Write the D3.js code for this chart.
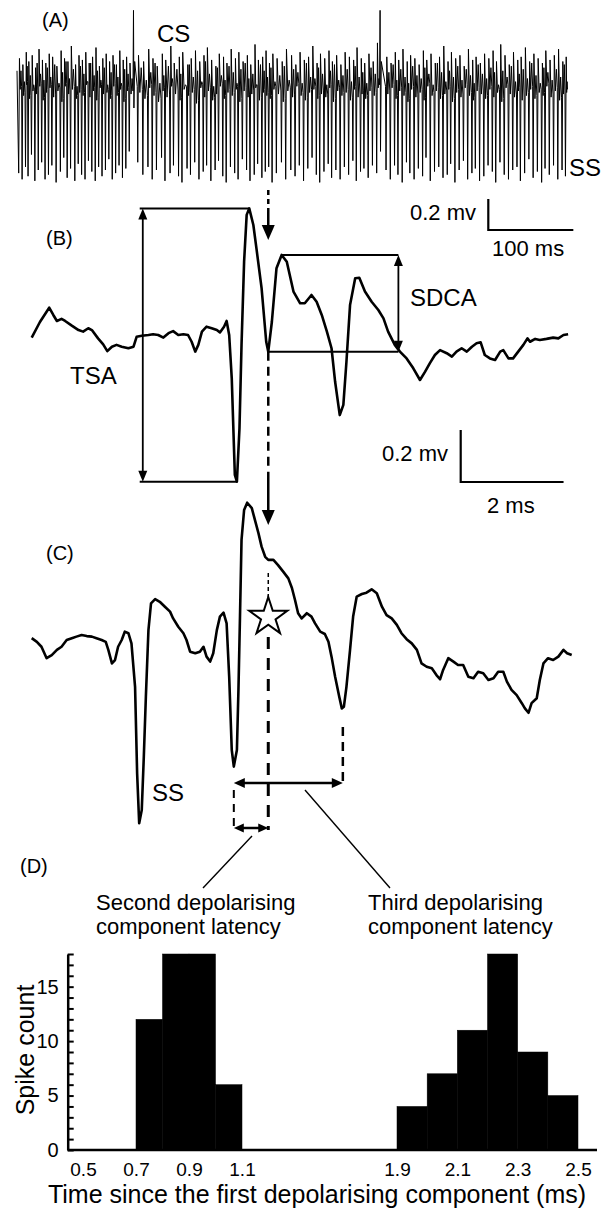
<!DOCTYPE html>
<html>
<head>
<meta charset="utf-8">
<script src="https://cdn.jsdelivr.net/npm/d3@7"></script>
<style>
  body { margin: 0; background: #fff; }
  text { font-family: "Liberation Sans", Arial, sans-serif; fill: #000; }
</style>
</head>
<body>
<script>
// ------------------------------- Data --------------------------------------
// (A) raw recording: simple spike times (ms), their trough (mV x 0.01),
// and the noise between one spike and the next (mV x 0.01).
var aSpikeT = [2,6,10,13,17,21,25,29,33,37,41,46,51,55,59,63,68,72,76,80,84,88,92,96,100,104,108,112,116,120,124,128,132,
  142,148,154,159,164,170,174,180,184,190,194,200,204,209,214,219,223,228,233,237,242,246,251,256,260,265,270,274,279,283,288,292,296,300,305,311,316,322,327,332,337,342,347,352,356,361,366,370,375,380,385,390,395,399,404,408,413,418,423,
  434,439,444,448,453,458,462,467,472,477,481,486,491,496,501,506,510,515,520,525,530,535,539,544,549,554,559,563,568,573,578,583,588,592,597,602,607,612,617,621,626,631,636,641,645];
var aSpikeDepth = [-62,-66,-58,-64,-50,-67,-60,-55,-66,-63,-57,-68,-61,-52,-65,-59,-67,-56,-63,-66,-54,-61,-67,-58,-64,-60,-53,-66,-62,-57,-65,-59,-48,
  -55,-63,-58,-66,-60,-52,-67,-62,-57,-64,-68,-59,-63,-55,-66,-61,-57,-67,-60,-54,-64,-68,-58,-62,-66,-53,-60,-67,-63,-56,-65,-61,-58,-68,-62,-55,-66,-60,-64,-57,-67,-59,-52,-63,-68,-61,-56,-65,-60,-66,-58,-63,-54,-67,-61,-59,-65,-57,-62,
  -60,-66,-57,-63,-68,-55,-62,-66,-59,-64,-52,-67,-61,-58,-65,-63,-56,-68,-60,-54,-66,-62,-59,-67,-64,-57,-61,-68,-55,-63,-66,-60,-58,-67,-62,-53,-65,-61,-68,-59,-63,-57,-66,-60,-64];
var aNoiseUp = [12,8,16,10,14,6,18,11,9,15,13,7,17,12,10,20,8,14,11,16,9,13,19,7,12,15,10,14,8,17,11,13,9,
  14,10,18,12,7,15,11,20,9,13,16,8,12,17,10,14,19,11,7,15,13,9,18,12,16,10,14,8,21,11,13,17,9,15,12,10,18,14,8,16,11,13,20,9,15,12,17,10,14,8,16,13,11,19,12,9,15,10,22,
  13,9,16,11,18,10,14,12,8,17,11,15,9,13,20,10,16,12,14,7,18,11,13,9,15,12,17,10,21,14,8,16,11,13,19,10,15,12,9,17,11,14,18,10,13];
var aNoiseLow = [-8,-12,-5,-14,-9,-11,-6,-15,-10,-7,-13,-9,-16,-6,-11,-8,-14,-10,-12,-5,-13,-9,-15,-7,-11,-10,-14,-6,-12,-8,-16,-9,-11,
  -10,-14,-7,-12,-16,-9,-13,-6,-11,-15,-8,-12,-10,-17,-7,-13,-9,-15,-11,-6,-14,-10,-12,-8,-16,-9,-13,-11,-7,-15,-10,-12,-14,-8,-11,-16,-9,-13,-6,-12,-15,-10,-8,-14,-11,-13,-7,-16,-9,-12,-10,-15,-8,-13,-11,-14,-9,-12,-7,
  -11,-7,-14,-9,-12,-16,-8,-13,-10,-15,-6,-12,-9,-14,-11,-8,-16,-10,-13,-7,-12,-15,-9,-11,-14,-8,-13,-10,-16,-7,-11,-13,-9,-15,-12,-8,-14,-10,-12,-6,-13,-9,-15,-11,-10];
var aNoiseMid = [4,-3,7,1,-5,9,2,-2,6,0,8,-4,3,10,-1,5,-6,7,2,-3,9,1,4,-2,6,-5,3,8,0,-4,5,2,-1,
  6,-2,3,9,-4,1,7,-1,5,2,-5,8,0,4,-3,10,2,-6,6,1,-2,7,3,-4,5,9,-1,2,-5,8,4,0,6,-3,1,7,-2,5,3,-4,9,0,-1,6,2,-5,4,8,-2,1,5,-3,7,0,3,-4,6,2,-1,
  3,8,-2,5,0,-4,7,1,-1,6,2,-5,9,3,-3,4,0,7,-2,5,1,-4,8,2,-1,6,3,-5,4,0,7,-3,2,5,-1,9,1,-4,6,3,-2,5,0,8,-3];
// complex spikes (ms), peak and trough (mV)
var aCsT = [137, 427];
var aCsPeak = [0.43, 0.43];
var aCsTrough = [-0.20, -0.48];

// (B) averaged complex spike waveform: time (ms) / voltage (mV)
var bTime = [0,0.16,0.34,0.42,0.49,0.58,0.65,0.78,0.91,1.00,1.10,1.17,1.29,1.39,1.47,1.56,1.65,1.75,1.88,1.98,
  2.04,2.14,2.27,2.36,2.46,2.56,2.66,2.75,2.85,2.95,3.04,3.11,3.18,3.24,3.31,3.40,3.50,3.60,3.66,3.74,
  3.79,3.84,3.89,3.95,3.99,4.04,4.08,4.13,4.18,4.23,4.31,4.37,4.47,4.56,4.60,4.67,4.76,4.86,4.96,5.09,
  5.22,5.31,5.44,5.54,5.64,5.74,5.83,5.90,5.99,6.06,6.12,6.19,6.29,6.37,6.48,6.61,6.74,6.84,6.93,7.06,
  7.16,7.29,7.42,7.55,7.65,7.74,7.84,7.94,8.07,8.17,8.26,8.36,8.46,8.56,8.65,8.73,8.81,8.91,9.01,9.11,
  9.17,9.27,9.36,9.46,9.56,9.64,9.69,9.79,9.88,10.01,10.14,10.24,10.34,10.43];
var bVolt = [-0.01,0.05,0.105,0.077,0.054,0.062,0.054,0.036,0.019,0.013,0.026,0.019,-0.013,-0.036,-0.062,-0.045,-0.038,-0.045,-0.051,-0.045,
  -0.007,-0.003,0,0.003,0,-0.01,0.007,0.015,0,0.003,0,-0.026,-0.064,-0.038,0.013,0.032,0.026,0.019,0.01,0.032,
  0.054,0,-0.167,-0.538,-0.564,-0.359,-0.038,0.282,0.462,0.487,0.423,0.333,0.18,-0.026,-0.064,0.051,0.257,0.308,0.282,0.167,
  0.122,0.122,0.154,0.128,0.077,0.013,-0.051,-0.18,-0.308,-0.269,-0.103,0.115,0.218,0.22,0.167,0.128,0.096,0.064,0.013,-0.038,
  -0.064,-0.09,-0.128,-0.173,-0.141,-0.109,-0.077,-0.058,-0.07,-0.083,-0.064,-0.051,-0.064,-0.045,-0.032,-0.028,-0.077,-0.09,-0.096,-0.064,
  -0.058,-0.09,-0.09,-0.064,-0.038,-0.013,-0.026,-0.015,-0.019,-0.015,-0.01,-0.013,0,0.003];

// (C) complex spike following a simple spike
var cTime = [0,0.10,0.19,0.29,0.39,0.49,0.58,0.68,0.78,0.87,0.97,1.07,1.17,1.26,1.36,1.44,1.49,1.56,1.62,1.68,
  1.75,1.81,1.88,1.94,2.01,2.05,2.09,2.14,2.18,2.22,2.27,2.32,2.40,2.49,2.59,2.69,2.75,2.85,2.95,3.01,
  3.08,3.18,3.27,3.34,3.40,3.47,3.53,3.60,3.66,3.73,3.79,3.84,3.89,3.93,3.99,4.02,4.05,4.08,4.13,4.19,
  4.28,4.34,4.41,4.47,4.54,4.60,4.70,4.79,4.89,4.99,5.06,5.12,5.18,5.25,5.35,5.44,5.51,5.61,5.70,5.77,
  5.83,5.90,5.98,6.03,6.07,6.12,6.19,6.25,6.32,6.42,6.51,6.61,6.71,6.81,6.90,7.00,7.10,7.19,7.29,7.39,
  7.49,7.58,7.68,7.78,7.87,7.94,8.00,8.10,8.20,8.29,8.39,8.49,8.59,8.68,8.78,8.88,8.98,9.07,9.17,9.24,
  9.33,9.43,9.53,9.59,9.66,9.72,9.82,9.88,9.95,10.04,10.14,10.24,10.34,10.41,10.50];
var cVolt = [0.007,-0.007,-0.026,-0.07,-0.058,-0.038,-0.026,0,0.007,0.013,0.019,0.015,0.013,0.007,0,-0.007,-0.038,-0.09,-0.077,-0.026,
  0,0.032,0.026,-0.013,-0.18,-0.513,-0.705,-0.654,-0.449,-0.218,0.038,0.141,0.157,0.147,0.128,0.109,0.083,0.051,0.026,0,
  -0.045,-0.051,-0.045,-0.026,-0.064,-0.083,-0.051,0.038,0.09,0.105,0.064,-0.141,-0.423,-0.487,-0.423,-0.192,0.09,0.385,0.5,0.528,
  0.507,0.462,0.41,0.359,0.32,0.308,0.308,0.288,0.263,0.237,0.2,0.154,0.103,0.083,0.103,0.09,0.064,0.032,0.023,-0.007,
  -0.064,-0.141,-0.218,-0.263,-0.257,-0.18,-0.038,0.09,0.167,0.177,0.182,0.195,0.18,0.128,0.096,0.083,0.058,0.026,0.003,-0.013,
  -0.038,-0.09,-0.103,-0.109,-0.135,-0.151,-0.115,-0.07,-0.083,-0.096,-0.096,-0.141,-0.147,-0.122,-0.128,-0.154,-0.147,-0.122,-0.122,-0.16,
  -0.192,-0.212,-0.243,-0.263,-0.28,-0.243,-0.224,-0.154,-0.09,-0.07,-0.077,-0.064,-0.038,-0.051,-0.058];

// component times used by the annotations (ms)
var firstComp = 3.93, secondComp = 4.60, thirdComp = 6.05;

// (D) latency histogram, 0.1 ms bins
var histBinStart = [0.7, 0.8, 0.9, 1.0, 1.9, 2.0, 2.1, 2.2, 2.3, 2.4];
var histCount = [12, 18, 18, 6, 4, 7, 11, 18, 9, 5];
var histXTicks = [0.5, 0.7, 0.9, 1.1, 1.9, 2.1, 2.3, 2.5];
var histYLabels = [0, 5, 10, 15];

// ------------------------------- Setup -------------------------------------
var width = 610, height = 1209;
var svg = d3.select("body").append("svg")
  .attr("width", width)
  .attr("height", height)
  .style("background", "white");

function label(x, y, txt, size) {
  return svg.append("text").attr("x", x).attr("y", y).attr("font-size", size).text(txt);
}
function seg(x1, y1, x2, y2, w, dash) {
  var l = svg.append("line").attr("x1", x1).attr("y1", y1).attr("x2", x2).attr("y2", y2)
    .attr("stroke", "#000").attr("stroke-width", w);
  if (dash) l.attr("stroke-dasharray", dash);
  return l;
}
// filled arrow head, tip at (x, y)
function head(x, y, dir, len, half) {
  var pts = {
    down: [[x, y], [x - half, y - len], [x + half, y - len]],
    up: [[x, y], [x - half, y + len], [x + half, y + len]],
    left: [[x, y], [x + len, y - half], [x + len, y + half]],
    right: [[x, y], [x - len, y - half], [x - len, y + half]]
  }[dir];
  svg.append("path").attr("d", d3.line()(pts) + "Z").attr("fill", "#000");
}

// ------------------------------- Panel A -----------------------------------
var xA = d3.scaleLinear().domain([0, 648]).range([17, 568]);
var yA = d3.scaleLinear().domain([0, 1]).range([77, -78]);   // 155 px per mV

var aEvents = aSpikeT.map(function(t, i) { return {t: t, kind: "ss", i: i}; })
  .concat(aCsT.map(function(t, i) { return {t: t, kind: "cs", i: i}; }))
  .sort(function(a, b) { return a.t - b.t; });

var aPts = [[0, 0.04]];
aEvents.forEach(function(e, k) {
  var next = k + 1 < aEvents.length ? aEvents[k + 1].t : 648;
  if (e.kind === "ss") {
    var g = next - e.t - 1.5;
    aPts.push([e.t, aSpikeDepth[e.i] / 100]);
    aPts.push([e.t + 0.9, aNoiseUp[e.i] / 100]);
    aPts.push([e.t + 0.9 + g * 0.35, aNoiseLow[e.i] / 100]);
    aPts.push([e.t + 0.9 + g * 0.7, aNoiseMid[e.i] / 100]);
    aPts.push([next - 0.6, aNoiseLow[e.i] / 100 + 0.02]);
  } else {
    aPts.push([e.t, aCsPeak[e.i]]);
    aPts.push([e.t + 0.5, aCsTrough[e.i]]);
    aPts.push([e.t + 1.4, 0.10]);
    aPts.push([next - 0.6, -0.06]);
  }
});

svg.append("path")
  .attr("d", d3.line().x(function(d) { return xA(d[0]); }).y(function(d) { return yA(d[1]); })(aPts))
  .attr("fill", "none").attr("stroke", "#000").attr("stroke-width", 1);

label(42, 27, "(A)", 20);
label(157, 42, "CS", 24);
label(569, 176, "SS", 24);

// scale bar for A: 0.2 mV / 100 ms
var sbAx = 488.3, sbAy = 199;
svg.append("path")
  .attr("d", "M" + sbAx + "," + sbAy + "V" + (sbAy + yA(0) - yA(0.2)) + "H" + (sbAx + xA(100) - xA(0)))
  .attr("fill", "none").attr("stroke", "#000").attr("stroke-width", 2.2);
label(410, 220, "0.2 mv", 22);
label(492, 256, "100 ms", 22);

// ------------------------------- Panel B -----------------------------------
var xT = d3.scaleLinear().domain([0, 10.5]).range([31.7, 571.7]);
var yB = d3.scaleLinear().domain([0, 1]).range([335, 75]);    // 260 px per mV
var yC = d3.scaleLinear().domain([0, 1]).range([640, 380]);

var bLine = d3.line().x(function(d) { return xT(d[0]); }).y(function(d) { return yB(d[1]); });
svg.append("path")
  .attr("d", bLine(bTime.map(function(t, i) { return [t, bVolt[i]]; })))
  .attr("fill", "none").attr("stroke", "#000").attr("stroke-width", 2.6)
  .attr("stroke-linejoin", "round");

label(46, 245, "(B)", 20);

// TSA: total spike amplitude
var bPeak = d3.maxIndex(bVolt), bTrough = d3.minIndex(bVolt);
var tsaTop = yB(bVolt[bPeak]), tsaBot = yB(bVolt[bTrough]);
seg(xT(2.10), tsaTop, xT(bTime[bPeak]), tsaTop, 2);
seg(xT(2.10), tsaBot, xT(bTime[bTrough]), tsaBot, 2);
seg(xT(2.16), tsaTop + 8, xT(2.16), tsaBot - 8, 1.8);
head(xT(2.16), tsaTop, "up", 11, 4.5);
head(xT(2.16), tsaBot, "down", 11, 4.5);
label(70, 384, "TSA", 24);

// SDCA: second depolarising component amplitude
var sdTop = yB(0.308), sdBot = yB(-0.064), sdX = xT(7.13);
seg(xT(4.86), sdTop, sdX, sdTop, 2);
seg(xT(secondComp), sdBot, sdX, sdBot, 2);
seg(sdX, sdTop + 8, sdX, sdBot - 8, 1.8);
head(sdX, sdTop, "up", 11, 4.5);
head(sdX, sdBot, "down", 11, 4.5);
label(410, 306, "SDCA", 24);

// arrows marking the second component
var mx = xT(secondComp);
seg(mx, 190, mx, 212, 2.5, "5,4");
seg(mx, 212, mx, 228, 2.5);
head(mx, 240, "down", 15, 6.5);
seg(mx, sdBot, mx, 478, 2.5, "9,6");
seg(mx, 478, mx, 513, 2.5);
head(mx, 525, "down", 15, 6.5);

// scale bar for B/C: 0.2 mV / 2 ms
var sbBx = 460.7, sbBy = 430;
svg.append("path")
  .attr("d", "M" + sbBx + "," + sbBy + "V" + (sbBy + yB(0) - yB(0.2)) + "H" + (sbBx + xT(2) - xT(0)))
  .attr("fill", "none").attr("stroke", "#000").attr("stroke-width", 2.2);
label(382, 461, "0.2 mv", 22);
label(487, 513, "2 ms", 22);

// ------------------------------- Panel C -----------------------------------
var cLine = d3.line().x(function(d) { return xT(d[0]); }).y(function(d) { return yC(d[1]); });
svg.append("path")
  .attr("d", cLine(cTime.map(function(t, i) { return [t, cVolt[i]]; })))
  .attr("fill", "none").attr("stroke", "#000").attr("stroke-width", 2.6)
  .attr("stroke-linejoin", "round");

label(46, 560, "(C)", 20);
label(152, 801, "SS", 24);

var x1c = xT(firstComp), x2c = xT(secondComp), x3c = xT(thirdComp);
// dashed guides
seg(x2c, 573, x2c, 597, 1.5, "4,3");
seg(x2c, 637, x2c, 830, 3, "12,9");
seg(x1c, 790, x1c, 830, 2, "8,6");
seg(x3c, 727, x3c, 783, 2.5, "9,6");
svg.append("path")
  .attr("d", d3.symbol().type(d3.symbolStar).size(449)())
  .attr("transform", "translate(" + x2c + ",617)")
  .attr("fill", "#fff").attr("stroke", "#000").attr("stroke-width", 2);

// latency arrows
seg(x1c + 8, 783, x3c - 8, 783, 2.5);
head(x1c, 783, "left", 11, 5);
head(x3c, 783, "right", 11, 5);
seg(x1c + 8, 828, x2c - 8, 828, 2.5);
head(x1c, 828, "left", 10, 4.5);
head(x2c, 828, "right", 10, 4.5);

// connectors to the labels of (D)
seg(252, 836, 203, 888, 1.4);
seg(305, 790, 390, 888, 1.4);

// ------------------------------- Panel D -----------------------------------
label(20, 873, "(D)", 20);
label(96, 910, "Second depolarising", 22);
label(96, 934, "component latency", 22);
label(368, 910, "Third depolarising", 22);
label(368, 934, "component latency", 22);

var axX = 67.7;
var xD = d3.scaleLinear().domain([0.5, 1.1, 1.9, 2.5]).range([83, 242, 397, 578]);
var yD = d3.scaleLinear().domain([0, 18]).range([1150, 954]);

svg.append("g").selectAll("rect")
  .data(histBinStart)
  .enter().append("rect")
  .attr("x", function(d) { return xD(d); })
  .attr("width", function(d) { return xD(d + 0.1) - xD(d); })
  .attr("y", function(d, i) { return yD(histCount[i]); })
  .attr("height", function(d, i) { return yD(0) - yD(histCount[i]); })
  .attr("fill", "#000")
  .attr("stroke", "#000").attr("stroke-width", 0.5);

var yAxis = svg.append("g")
  .attr("transform", "translate(" + axX + ",0)")
  .call(d3.axisLeft(yD).tickValues(d3.range(0, 19)).tickSizeInner(-6).tickSizeOuter(0).tickPadding(9)
    .tickFormat(function(d) { return histYLabels.indexOf(d) >= 0 ? d : ""; }));
yAxis.selectAll("text").attr("font-size", 20).style("font-family", "Liberation Sans, Arial, sans-serif");
yAxis.selectAll("line").attr("stroke-width", 2);
yAxis.select(".domain").attr("stroke-width", 2.5);

var xAxis = svg.append("g")
  .attr("transform", "translate(0," + yD(0) + ")")
  .call(d3.axisBottom(xD).tickValues(histXTicks).tickSize(0).tickPadding(13).tickFormat(d3.format(".1f")));
xAxis.select(".domain").remove();
xAxis.selectAll("text").attr("font-size", 19).style("font-family", "Liberation Sans, Arial, sans-serif");
seg(axX, yD(0), 597, yD(0), 2.5);

svg.append("text")
  .attr("transform", "translate(34,1050) rotate(-90)")
  .attr("text-anchor", "middle").attr("font-size", 25)
  .text("Spike count");
svg.append("text")
  .attr("x", 317).attr("y", 1203)
  .attr("text-anchor", "middle").attr("font-size", 25)
  .text("Time since the first depolarising component (ms)");
</script>
</body>
</html>
